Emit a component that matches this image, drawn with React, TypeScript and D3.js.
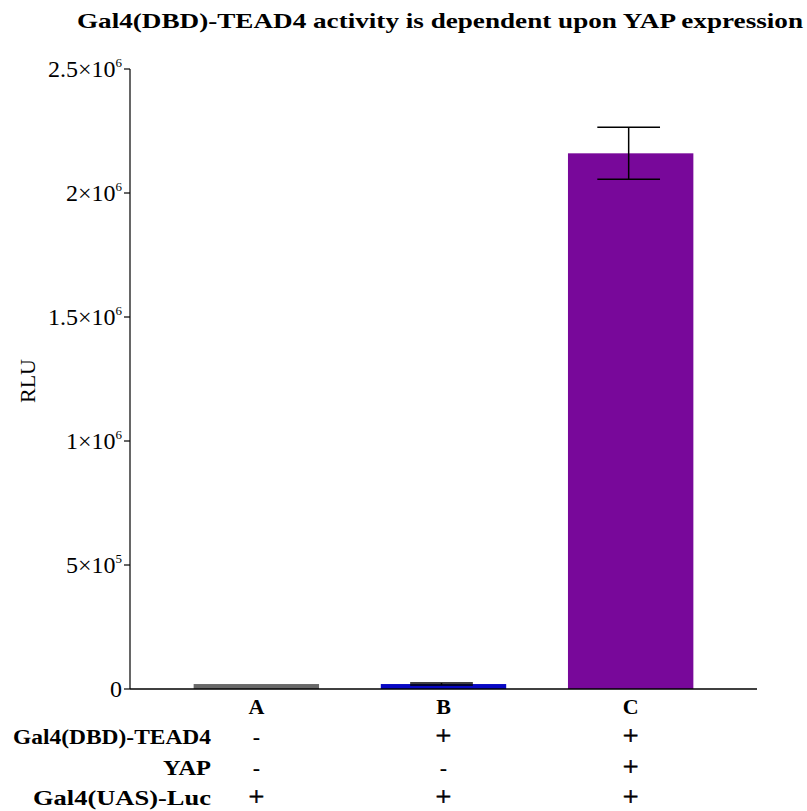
import React from 'react';
import * as d3 from 'd3';

const categories = ['A', 'B', 'C'];
const means = [20000, 20000, 2160000];
const errors = [0, 4000, 105000];
const barColors = ['#686868', '#0808c4', '#78089a'];
const yTicks = [0, 500000, 1000000, 1500000, 2000000, 2500000];
const tickLabels: [string, string][] = [
  ['0', ''],
  ['5×10', '5'],
  ['1×10', '6'],
  ['1.5×10', '6'],
  ['2×10', '6'],
  ['2.5×10', '6'],
];
const rowLabels = ['Gal4(DBD)-TEAD4', 'YAP', 'Gal4(UAS)-Luc'];
const rowLabelWidths = [198, 48, 178];
const rowSigns = [
  ['-', '+', '+'],
  ['-', '-', '+'],
  ['+', '+', '+'],
];
const title = 'Gal4(DBD)-TEAD4 activity is dependent upon YAP expression';

const W = 807;
const H = 811;
const serif = "'Liberation Serif', 'Times New Roman', serif";

export default function App() {
  const left = 130;
  const right = 757;
  const top = 69;
  const bottom = 689;

  const x = d3.scaleBand<string>().domain(categories).range([left, right]).paddingInner(0.33).paddingOuter(0.34);
  const y = d3.scaleLinear().domain([0, 2500000]).range([bottom, top]);

  const rowY = [737, 768, 798];
  const mid = (c: string) => (x(c) as number) + x.bandwidth() / 2;

  return (
    <svg width={W} height={H} style={{ position: 'absolute', left: 0, top: 0, fontFamily: serif }}>
      <rect width={W} height={H} fill="#fff" />
      <text x={440} y={28} textAnchor="middle" fontWeight="bold" fontSize={21} textLength={726} lengthAdjust="spacingAndGlyphs">
        {title}
      </text>

      {/* bars */}
      {categories.map((c, i) => (
        <rect key={c} x={x(c)} y={y(means[i])} width={x.bandwidth()} height={bottom - y(means[i])} fill={barColors[i]} />
      ))}

      {/* error bars */}
      {categories.map((c, i) => {
        if (!errors[i]) return null;
        const cx = mid(c) - 2;
        const half = x.bandwidth() / 4;
        const y1 = y(means[i] + errors[i]);
        const y2 = y(means[i] - errors[i]);
        return (
          <g key={'e' + c} stroke="#000" strokeWidth={1.5}>
            <line x1={cx} x2={cx} y1={y1} y2={y2} />
            <line x1={cx - half} x2={cx + half} y1={y1} y2={y1} />
            <line x1={cx - half} x2={cx + half} y1={y2} y2={y2} />
          </g>
        );
      })}

      {/* axes */}
      <line x1={left} x2={left} y1={top} y2={bottom} stroke="#000" strokeWidth={1.2} />
      <line x1={left} x2={right} y1={bottom} y2={bottom} stroke="#000" strokeWidth={1.5} />
      {yTicks.map((t, i) => (
        <g key={t}>
          <line x1={left - 6} x2={left} y1={y(t)} y2={y(t)} stroke="#000" strokeWidth={1.2} />
          <text x={left - 8} y={y(t) + 8} textAnchor="end" fontSize={24}>
            {tickLabels[i][0]}
            {tickLabels[i][1] && (
              <tspan dy={-10} fontSize={13}>{tickLabels[i][1]}</tspan>
            )}
          </text>
        </g>
      ))}
      <text transform={`translate(35,${(top + bottom) / 2 + 2}) rotate(-90)`} textAnchor="middle" fontSize={22}>
        RLU
      </text>

      {/* category labels */}
      {categories.map(c => (
        <text key={'l' + c} x={mid(c)} y={714} textAnchor="middle" fontWeight="bold" fontSize={22}>
          {c}
        </text>
      ))}

      {/* condition table */}
      {rowLabels.map((r, ri) => (
        <g key={r}>
          <text x={211} y={rowY[ri] + 7} textAnchor="end" fontWeight="bold" fontSize={20} textLength={rowLabelWidths[ri]} lengthAdjust="spacingAndGlyphs">
            {r}
          </text>
          {categories.map((c, ci) => (
            <text
              key={c}
              x={mid(c)}
              y={rowY[ri] + (rowSigns[ri][ci] === '+' ? 8 : 7)}
              textAnchor="middle"
              fontWeight={rowSigns[ri][ci] === '+' ? 'normal' : 'bold'}
              fontSize={rowSigns[ri][ci] === '+' ? 28 : 22}
              stroke="#000"
              strokeWidth={rowSigns[ri][ci] === '+' ? 0.6 : 0}
            >
              {rowSigns[ri][ci]}
            </text>
          ))}
        </g>
      ))}
    </svg>
  );
}
